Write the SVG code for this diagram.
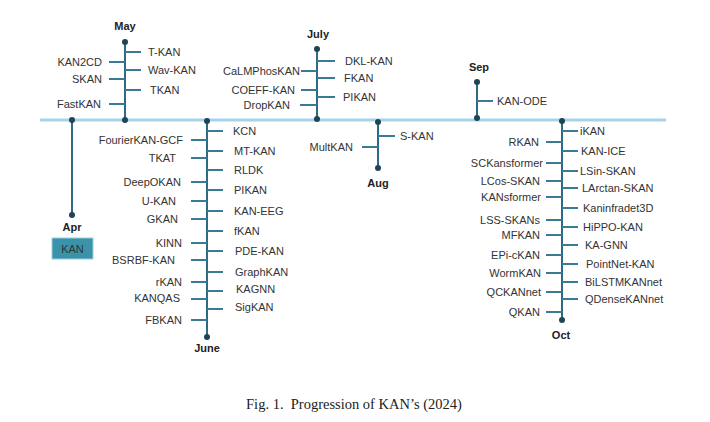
<svg xmlns="http://www.w3.org/2000/svg" width="710" height="422" viewBox="0 0 710 422">
<defs>
<style>
.lbl{font-family:"Liberation Sans","DejaVu Sans",sans-serif;font-size:11px;fill:#333;dominant-baseline:central}
.l{text-anchor:end}
.mon{font-family:"Liberation Sans","DejaVu Sans",sans-serif;font-size:11px;font-weight:bold;fill:#222;text-anchor:middle;dominant-baseline:central}
.v{stroke:#2d6a85;stroke-width:2;fill:none}
.t{stroke:#3a7a94;stroke-width:2;fill:none}
.dot{fill:#1f4456}
.main{stroke:#a6d3ec;stroke-width:3;fill:none}
.cap{font-family:"Liberation Serif","DejaVu Serif",serif;font-size:14.5px;fill:#222;text-anchor:middle;white-space:pre}
</style>
</defs>
<rect width="710" height="422" fill="#fff"/>
<g id="connectors">
<line class="main" x1="40" y1="120" x2="666" y2="120"/>
<line class="v" x1="72" y1="120" x2="72" y2="215"/>
<line class="v" x1="125" y1="42" x2="125" y2="120"/>
<line class="t" x1="125" y1="52" x2="141" y2="52"/>
<line class="t" x1="125" y1="70" x2="141" y2="70"/>
<line class="t" x1="125" y1="90" x2="141" y2="90"/>
<line class="t" x1="109" y1="62" x2="125" y2="62"/>
<line class="t" x1="109" y1="79" x2="125" y2="79"/>
<line class="t" x1="109" y1="104" x2="125" y2="104"/>
<line class="v" x1="207" y1="120" x2="207" y2="338"/>
<line class="t" x1="207" y1="131" x2="223" y2="131"/>
<line class="t" x1="207" y1="151" x2="223" y2="151"/>
<line class="t" x1="207" y1="170" x2="223" y2="170"/>
<line class="t" x1="207" y1="190" x2="223" y2="190"/>
<line class="t" x1="207" y1="211" x2="223" y2="211"/>
<line class="t" x1="207" y1="231" x2="223" y2="231"/>
<line class="t" x1="207" y1="251" x2="223" y2="251"/>
<line class="t" x1="207" y1="272" x2="223" y2="272"/>
<line class="t" x1="207" y1="291" x2="223" y2="291"/>
<line class="t" x1="207" y1="309" x2="223" y2="309"/>
<line class="t" x1="191" y1="140" x2="207" y2="140"/>
<line class="t" x1="191" y1="158" x2="207" y2="158"/>
<line class="t" x1="191" y1="182" x2="207" y2="182"/>
<line class="t" x1="191" y1="201" x2="207" y2="201"/>
<line class="t" x1="191" y1="219" x2="207" y2="219"/>
<line class="t" x1="191" y1="243" x2="207" y2="243"/>
<line class="t" x1="191" y1="260" x2="207" y2="260"/>
<line class="t" x1="191" y1="282" x2="207" y2="282"/>
<line class="t" x1="191" y1="299" x2="207" y2="299"/>
<line class="t" x1="191" y1="320" x2="207" y2="320"/>
<line class="v" x1="317" y1="49" x2="317" y2="120"/>
<line class="t" x1="317" y1="61" x2="335" y2="61"/>
<line class="t" x1="317" y1="78" x2="335" y2="78"/>
<line class="t" x1="317" y1="97" x2="335" y2="97"/>
<line class="t" x1="301" y1="71" x2="317" y2="71"/>
<line class="t" x1="301" y1="90" x2="317" y2="90"/>
<line class="t" x1="300" y1="105" x2="317" y2="105"/>
<line class="v" x1="378" y1="121" x2="378" y2="168"/>
<line class="t" x1="378" y1="136" x2="395" y2="136"/>
<line class="t" x1="362" y1="147" x2="378" y2="147"/>
<line class="v" x1="477" y1="82" x2="477" y2="120"/>
<line class="t" x1="477" y1="101" x2="493" y2="101"/>
<line class="v" x1="562" y1="121" x2="562" y2="321"/>
<line class="t" x1="562" y1="131" x2="578" y2="131"/>
<line class="t" x1="562" y1="151" x2="578" y2="151"/>
<line class="t" x1="562" y1="171" x2="578" y2="171"/>
<line class="t" x1="562" y1="188" x2="578" y2="188"/>
<line class="t" x1="562" y1="208" x2="578" y2="208"/>
<line class="t" x1="562" y1="227" x2="578" y2="227"/>
<line class="t" x1="562" y1="245" x2="578" y2="245"/>
<line class="t" x1="562" y1="264" x2="578" y2="264"/>
<line class="t" x1="562" y1="282" x2="578" y2="282"/>
<line class="t" x1="562" y1="299" x2="578" y2="299"/>
<line class="t" x1="546" y1="142" x2="562" y2="142"/>
<line class="t" x1="546" y1="163" x2="562" y2="163"/>
<line class="t" x1="546" y1="181" x2="562" y2="181"/>
<line class="t" x1="546" y1="197" x2="562" y2="197"/>
<line class="t" x1="546" y1="220" x2="562" y2="220"/>
<line class="t" x1="546" y1="235" x2="562" y2="235"/>
<line class="t" x1="546" y1="255" x2="562" y2="255"/>
<line class="t" x1="546" y1="273" x2="562" y2="273"/>
<line class="t" x1="546" y1="292" x2="562" y2="292"/>
<line class="t" x1="546" y1="312" x2="562" y2="312"/>
<circle class="dot" cx="72" cy="120" r="3"/>
<circle class="dot" cx="72" cy="215" r="3"/>
<circle class="dot" cx="125" cy="42" r="3"/>
<circle class="dot" cx="125" cy="120" r="3"/>
<circle class="dot" cx="207" cy="121" r="3"/>
<circle class="dot" cx="207" cy="337" r="3"/>
<circle class="dot" cx="317" cy="49" r="3"/>
<circle class="dot" cx="317" cy="119" r="3"/>
<circle class="dot" cx="378" cy="122" r="3"/>
<circle class="dot" cx="378" cy="168" r="3"/>
<circle class="dot" cx="477" cy="82" r="3"/>
<circle class="dot" cx="477" cy="118" r="3"/>
<circle class="dot" cx="562" cy="121" r="3"/>
<circle class="dot" cx="562" cy="320" r="3"/>
</g>
<g id="months">
<text class="mon" x="72" y="227">Apr</text>
<text class="mon" x="125" y="26">May</text>
<text class="mon" x="207" y="348">June</text>
<text class="mon" x="318" y="34">July</text>
<text class="mon" x="378" y="183">Aug</text>
<text class="mon" x="479" y="67">Sep</text>
<text class="mon" x="561" y="335">Oct</text>
</g>
<g id="n-KAN"><rect x="52" y="238" width="41" height="21" fill="#3a93a9" stroke="#9ccfe0" stroke-width="1"/><text class="lbl" x="72.5" y="248.5" text-anchor="middle" fill="#1e2d33">KAN</text></g>
<g id="may">
<g id="n-T-KAN"><text class="lbl" x="148" y="52">T-KAN</text></g>
<g id="n-Wav-KAN"><text class="lbl" x="148" y="70">Wav-KAN</text></g>
<g id="n-TKAN"><text class="lbl" x="150" y="90">TKAN</text></g>
<g id="n-KAN2CD"><text class="lbl l" x="102" y="62">KAN2CD</text></g>
<g id="n-SKAN"><text class="lbl l" x="102" y="79">SKAN</text></g>
<g id="n-FastKAN"><text class="lbl l" x="101" y="104">FastKAN</text></g>
</g>
<g id="june">
<g id="n-KCN"><text class="lbl" x="233" y="131">KCN</text></g>
<g id="n-MT-KAN"><text class="lbl" x="234" y="151">MT-KAN</text></g>
<g id="n-RLDK"><text class="lbl" x="234" y="170">RLDK</text></g>
<g id="n-PIKAN"><text class="lbl" x="234" y="190">PIKAN</text></g>
<g id="n-KAN-EEG"><text class="lbl" x="234" y="211">KAN-EEG</text></g>
<g id="n-fKAN"><text class="lbl" x="234" y="231">fKAN</text></g>
<g id="n-PDE-KAN"><text class="lbl" x="235" y="251">PDE-KAN</text></g>
<g id="n-GraphKAN"><text class="lbl" x="235" y="272">GraphKAN</text></g>
<g id="n-KAGNN"><text class="lbl" x="236" y="289">KAGNN</text></g>
<g id="n-SigKAN"><text class="lbl" x="235" y="307">SigKAN</text></g>
<g id="n-FourierKAN-GCF"><text class="lbl l" x="183" y="140">FourierKAN-GCF</text></g>
<g id="n-TKAT"><text class="lbl l" x="176" y="158">TKAT</text></g>
<g id="n-DeepOKAN"><text class="lbl l" x="181" y="182">DeepOKAN</text></g>
<g id="n-U-KAN"><text class="lbl l" x="176" y="201">U-KAN</text></g>
<g id="n-GKAN"><text class="lbl l" x="178" y="219">GKAN</text></g>
<g id="n-KINN"><text class="lbl l" x="182" y="243">KINN</text></g>
<g id="n-BSRBF-KAN"><text class="lbl l" x="175" y="260">BSRBF-KAN</text></g>
<g id="n-rKAN"><text class="lbl l" x="182" y="282">rKAN</text></g>
<g id="n-KANQAS"><text class="lbl l" x="180" y="298">KANQAS</text></g>
<g id="n-FBKAN"><text class="lbl l" x="182" y="320">FBKAN</text></g>
</g>
<g id="july">
<g id="n-DKL-KAN"><text class="lbl" x="345" y="61">DKL-KAN</text></g>
<g id="n-FKAN"><text class="lbl" x="344" y="78">FKAN</text></g>
<g id="n-PIKAN-2"><text class="lbl" x="343" y="97">PIKAN</text></g>
<g id="n-CaLMPhosKAN"><text class="lbl l" x="300" y="71">CaLMPhosKAN</text></g>
<g id="n-COEFF-KAN"><text class="lbl l" x="295" y="90">COEFF-KAN</text></g>
<g id="n-DropKAN"><text class="lbl l" x="290" y="105">DropKAN</text></g>
</g>
<g id="aug">
<g id="n-S-KAN"><text class="lbl" x="400" y="136">S-KAN</text></g>
<g id="n-MultKAN"><text class="lbl l" x="353" y="147">MultKAN</text></g>
</g>
<g id="sep">
<g id="n-KAN-ODE"><text class="lbl" x="497" y="101">KAN-ODE</text></g>
</g>
<g id="oct">
<g id="n-iKAN"><text class="lbl" x="580" y="131">iKAN</text></g>
<g id="n-KAN-ICE"><text class="lbl" x="581" y="151">KAN-ICE</text></g>
<g id="n-LSin-SKAN"><text class="lbl" x="580" y="171">LSin-SKAN</text></g>
<g id="n-LArctan-SKAN"><text class="lbl" x="582" y="188">LArctan-SKAN</text></g>
<g id="n-Kaninfradet3D"><text class="lbl" x="583" y="208">Kaninfradet3D</text></g>
<g id="n-HiPPO-KAN"><text class="lbl" x="583" y="227">HiPPO-KAN</text></g>
<g id="n-KA-GNN"><text class="lbl" x="585" y="245">KA-GNN</text></g>
<g id="n-PointNet-KAN"><text class="lbl" x="586" y="264">PointNet-KAN</text></g>
<g id="n-BiLSTMKANnet"><text class="lbl" x="585" y="282">BiLSTMKANnet</text></g>
<g id="n-QDenseKANnet"><text class="lbl" x="585" y="299">QDenseKANnet</text></g>
<g id="n-RKAN"><text class="lbl l" x="539" y="142">RKAN</text></g>
<g id="n-SCKansformer"><text class="lbl l" x="543" y="163">SCKansformer</text></g>
<g id="n-LCos-SKAN"><text class="lbl l" x="540" y="181">LCos-SKAN</text></g>
<g id="n-KANsformer"><text class="lbl l" x="541" y="197">KANsformer</text></g>
<g id="n-LSS-SKANs"><text class="lbl l" x="540" y="220">LSS-SKANs</text></g>
<g id="n-MFKAN"><text class="lbl l" x="540" y="235">MFKAN</text></g>
<g id="n-EPi-cKAN"><text class="lbl l" x="540" y="255">EPi-cKAN</text></g>
<g id="n-WormKAN"><text class="lbl l" x="541" y="273">WormKAN</text></g>
<g id="n-QCKANnet"><text class="lbl l" x="541" y="292">QCKANnet</text></g>
<g id="n-QKAN"><text class="lbl l" x="540" y="312">QKAN</text></g>
</g>
<text class="cap" x="354" y="409" xml:space="preserve">Fig. 1.  Progression of KAN’s (2024)</text>
</svg>
